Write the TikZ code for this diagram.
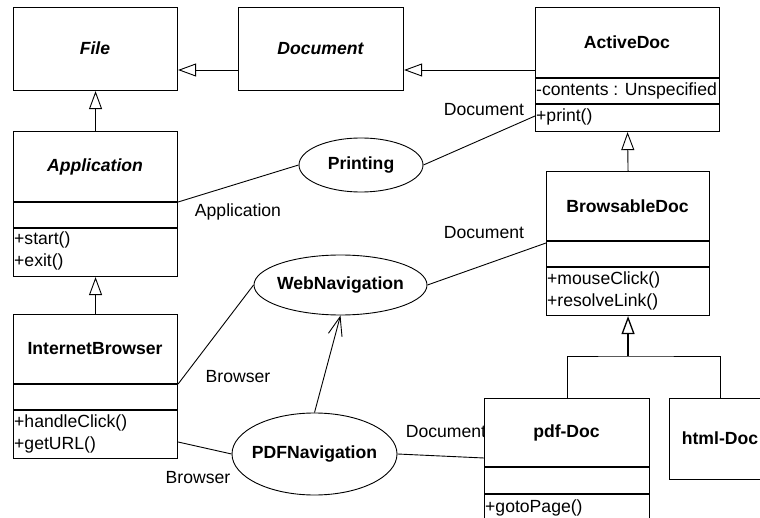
\documentclass[tikz,border=0pt]{standalone}
\usepackage{fontspec}
\setmainfont{Liberation Sans}
\usetikzlibrary{shapes.geometric,arrows.meta,calc}

\begin{document}
\begin{tikzpicture}[x=1pt,y=-1pt,
  every node/.style={font=\fontsize{17.6}{21}\selectfont},
  cls/.style={draw, line width=1.1pt, fill=white, inner sep=0pt, anchor=north west},
  title/.style={inner sep=0pt, font=\fontsize{17.6}{21}\selectfont\bfseries},
  abstract/.style={inner sep=0pt, font=\fontsize{17.6}{21}\selectfont\bfseries\itshape},
  member/.style={anchor=west, inner sep=0.5pt},
  role/.style={inner sep=0pt},
  uc/.style={draw, ellipse, line width=0.9pt, inner sep=0pt, fill=white},
  uctext/.style={inner sep=0pt, font=\fontsize{17.6}{21}\selectfont\bfseries},
  link/.style={line width=0.9pt},
  gen/.style={line width=0.9pt, -{Triangle[open, length=18pt, width=13pt, fill=white]}},
  nav/.style={line width=0.9pt, -{Straight Barb[length=19pt, width=14pt]}},
  divider/.style={line width=1.1pt}
]
\useasboundingbox (0,0) rectangle (760,518);
\clip (0,0) rectangle (760,518);

% association end roles
\node[role] (r1) at (484,110) {Document};
\node[role] (r2) at (238,212) {Application};
\node[role] (r3) at (484,233) {Document};
\node[role] (r4) at (238,377) {Browser};
\node[role] (r5) at (198,478) {Browser};
\node[role] (r6) at (446,432) {Document};

% classes
\node[cls, minimum width=164pt, minimum height=83pt] (file) at (13,7) {};
\node[abstract] at (95,48.5) {File};

\node[cls, minimum width=165pt, minimum height=83pt] (doc) at (238,7) {};
\node[abstract] at (320.5,48.5) {Document};

\node[cls, minimum width=184pt, minimum height=124pt] (act) at (535,7) {};
\node[title] at (627,42.5) {ActiveDoc};
\draw[divider] (act.west |- 0,78) -- (act.east |- 0,78);
\draw[divider] (act.west |- 0,104) -- (act.east |- 0,104);
\node[member] at (535.5,91) {-contents : Unspecified};
\node[member] at (535.5,117) {+print()};

\node[cls, minimum width=164pt, minimum height=145pt] (app) at (13,131) {};
\node[abstract] at (95,166.5) {Application};
\draw[divider] (app.west |- 0,202) -- (app.east |- 0,202);
\draw[divider] (app.west |- 0,228) -- (app.east |- 0,228);
\node[member] at (13.5,240) {+start()};
\node[member] at (13.5,262) {+exit()};

\node[cls, minimum width=163pt, minimum height=144pt] (brw) at (546,171) {};
\node[title] at (627.5,206) {BrowsableDoc};
\draw[divider] (brw.west |- 0,241) -- (brw.east |- 0,241);
\draw[divider] (brw.west |- 0,267) -- (brw.east |- 0,267);
\node[member] at (546.5,280) {+mouseClick()};
\node[member] at (546.5,302) {+resolveLink()};

\node[cls, minimum width=164pt, minimum height=144pt] (ib) at (13,314) {};
\node[title] at (95,349) {InternetBrowser};
\draw[divider] (ib.west |- 0,384) -- (ib.east |- 0,384);
\draw[divider] (ib.west |- 0,410) -- (ib.east |- 0,410);
\node[member] at (13.5,423) {+handleClick()};
\node[member] at (13.5,445) {+getURL()};

\node[cls, minimum width=165pt, minimum height=130pt] (pdf) at (484,398) {};
\node[title] at (566.5,432.5) {pdf-Doc};
\draw[divider] (pdf.west |- 0,467) -- (pdf.east |- 0,467);
\draw[divider] (pdf.west |- 0,494) -- (pdf.east |- 0,494);
\node[member] at (484.5,508) {+gotoPage()};

\node[cls, minimum width=102pt, minimum height=81pt] (html) at (669,398) {};
\node[title] at (720,438.5) {html-Doc};

% use cases
\node[uc, minimum width=124pt, minimum height=54pt,
      label={[uctext]center:Printing}] (print) at (361,165) {};
\node[uc, minimum width=173pt, minimum height=60pt,
      label={[uctext]center:WebNavigation}] (web) at (340.5,285) {};
\node[uc, minimum width=165pt, minimum height=82pt,
      label={[uctext]center:PDFNavigation}] (pdfnav) at (314.5,454) {};

% generalizations
\draw[gen] (doc.west |- 0,70) -- (file.east |- 0,70);
\draw[gen] (act.west |- 0,70) -- (doc.east |- 0,70);
\draw[gen] (app.north) -- (file.south);
\draw[gen] (ib.north) -- (app.south);
\draw[gen] (brw.north) -- (act.south);
\coordinate (join) at (brw.south |- 0,356);
\draw[gen, line width=1.3pt] (join) -- (brw.south);
\draw[link] (pdf.north) |- (join) -| (html.north);

% associations
\draw[link] (app.east |- 0,202) -- (print.west);
\draw[link] (print.east) -- (act.west |- 0,116);
\draw[link] (web.east) -- (brw.west |- 0,243);
\draw[link] (ib.east |- 0,384) -- (web.west);
\draw[link] (ib.east |- 0,442) -- (pdfnav.west);
\draw[link] (pdfnav.east) -- (pdf.west |- 0,458);
\draw[nav] (pdfnav.north) -- (web.south);
\end{tikzpicture}
\end{document}
